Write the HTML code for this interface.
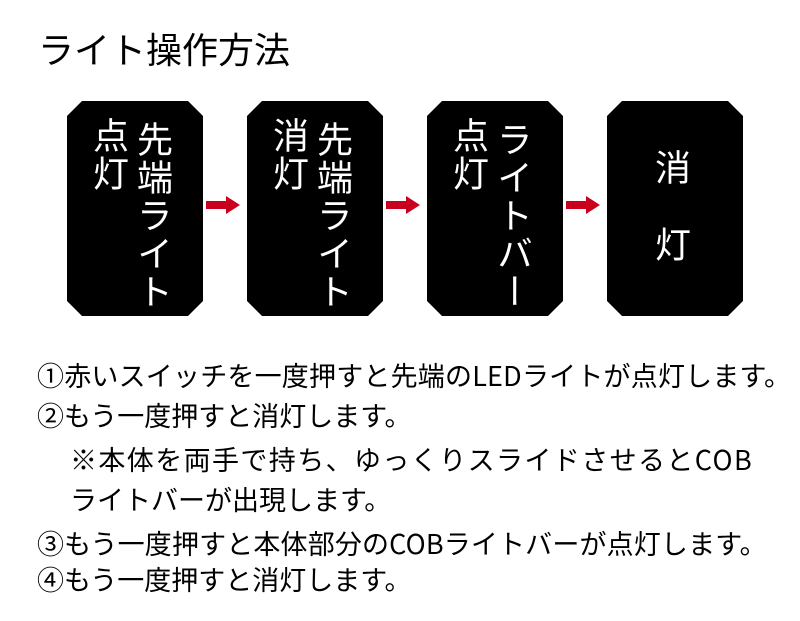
<!DOCTYPE html>
<html><head><meta charset="utf-8"><style>
body{margin:0;background:#fff;width:800px;height:621px;position:relative;overflow:hidden;font-family:"Noto Sans CJK JP",sans-serif;color:#000}
.t{position:absolute;white-space:nowrap;line-height:34px;height:34px;font-size:27px}
.box{position:absolute;top:101px;width:136px;height:215px;background:#000;clip-path:polygon(15px 0,121px 0,136px 15px,136px 200px,121px 215px,15px 215px,0 200px,0 15px)}
.v{position:absolute;color:#fff;font-size:36px;writing-mode:vertical-rl;line-height:36px;letter-spacing:2px;font-family:"Noto Sans CJK JP",sans-serif;white-space:nowrap}
.ar{position:absolute;top:196px}
</style></head><body>
<div class="t" style="left:38px;top:28px;font-size:36px;line-height:40px;height:40px">ライト操作方法</div>

<div class="box" style="left:67px"><div class="v" style="left:26px;top:16px">点灯</div><div class="v" style="left:70px;top:20px">先端ライト</div></div>
<div class="box" style="left:247px"><div class="v" style="left:26px;top:16px">消灯</div><div class="v" style="left:70px;top:20px">先端ライト</div></div>
<div class="box" style="left:427px"><div class="v" style="left:26px;top:16px">点灯</div><div class="v" style="left:70px;top:20px">ライトバー</div></div>
<div class="box" style="left:607px"><div class="v" style="left:48px;top:48px">消</div><div class="v" style="left:48px;top:125px">灯</div></div>

<svg class="ar" style="left:206px" width="34" height="18"><polygon points="0,5 20,5 20,0 34,9 20,18 20,13 0,13" fill="#c8001e"/></svg>
<svg class="ar" style="left:386px" width="34" height="18"><polygon points="0,5 20,5 20,0 34,9 20,18 20,13 0,13" fill="#c8001e"/></svg>
<svg class="ar" style="left:566px" width="34" height="18"><polygon points="0,5 20,5 20,0 34,9 20,18 20,13 0,13" fill="#c8001e"/></svg>

<div class="t" style="left:37px;top:358px;letter-spacing:0.2px">①赤いスイッチを一度押すと先端のLEDライトが点灯します。</div>
<div class="t" style="left:37px;top:398px">②もう一度押すと消灯します。</div>
<div class="t" style="left:70px;top:442px;letter-spacing:1.4px">※本体を両手で持ち、ゆっくりスライドさせるとCOB</div>
<div class="t" style="left:70px;top:482px">ライトバーが出現します。</div>
<div class="t" style="left:37px;top:526px;letter-spacing:0.15px">③もう一度押すと本体部分のCOBライトバーが点灯します。</div>
<div class="t" style="left:37px;top:562px">④もう一度押すと消灯します。</div>
</body></html>
